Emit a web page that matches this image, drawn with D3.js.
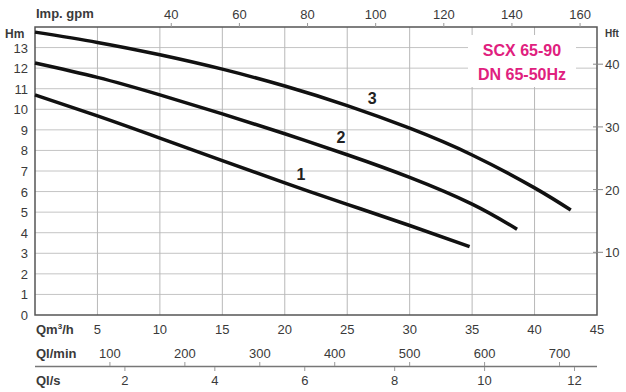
<!DOCTYPE html>
<html>
<head>
<meta charset="utf-8">
<script src="https://cdn.jsdelivr.net/npm/d3@7"></script>
<style>
  body { margin: 0; background: #fff; }
  svg text { font-family: "Liberation Sans", Arial, sans-serif; }
</style>
</head>
<body>
<div id="chart"></div>
<script>
// pump curves, flow in m3/h and head in m
const flow1 = [0, 5, 10, 15, 20, 25, 30, 34.8];
const head1 = [10.7, 9.68, 8.6, 7.5, 6.42, 5.38, 4.35, 3.32];
const flow2 = [0, 5, 10, 15, 20, 25, 30, 35, 38.6];
const head2 = [12.25, 11.55, 10.7, 9.78, 8.81, 7.79, 6.69, 5.39, 4.17];
const flow3 = [0, 5, 10, 15, 20, 25, 30, 35, 40, 42.9];
const head3 = [13.75, 13.25, 12.65, 11.95, 11.13, 10.18, 9.08, 7.78, 6.18, 5.1];
const curveNames = ["1", "2", "3"];
const labelFlow = [21.3, 24.5, 27.0];
const labelHead = [6.55, 8.35, 10.25];

// tick labels for every scale
const qTicks = [5, 10, 15, 20, 25, 30, 35, 40, 45];
const hTicks = [0, 1, 2, 3, 4, 5, 6, 7, 8, 9, 10, 11, 12, 13];
const gpmTicks = [40, 60, 80, 100, 120, 140, 160];
const lminTicks = [100, 200, 300, 400, 500, 600, 700];
const lsTicks = [2, 4, 6, 8, 10, 12];
const ftTicks = [10, 20, 30, 40];
const title = ["SCX 65-90", "DN 65-50Hz"];

const width = 626, height = 392;
const margin = {top: 27, right: 29, bottom: 77, left: 35};

const svg = d3.select("#chart")
  .append("svg")
  .attr("width", width)
  .attr("height", height);

// scales
let x = d3.scaleLinear()
  .domain([0, 45])
  .range([margin.left, width - margin.right]);

let y = d3.scaleLinear()
  .domain([0, 14])
  .range([height - margin.bottom, margin.top]);

// unit conversions for the extra axes
let xGpm = d3.scaleLinear().domain([0, 45 * 3.666]).range(x.range());
let xLmin = d3.scaleLinear().domain([0, 45 * 16.667]).range(x.range());
let xLs = d3.scaleLinear().domain([0, 45 / 3.6]).range(x.range());
let yFt = d3.scaleLinear().domain([0, 14 * 3.2808]).range(y.range());

const textCol = "#3a3a3a";

// grid
svg.append("g")
  .selectAll("line")
  .data(hTicks.slice(1))
  .enter()
  .append("line")
    .attr("x1", x(0))
    .attr("x2", x(45))
    .attr("y1", d => y(d))
    .attr("y2", d => y(d))
    .attr("stroke", "#c4c4c4")
    .attr("stroke-width", 1);

svg.append("g")
  .selectAll("line")
  .data(qTicks.slice(0, -1))
  .enter()
  .append("line")
    .attr("x1", d => x(d))
    .attr("x2", d => x(d))
    .attr("y1", y(0))
    .attr("y2", y(14))
    .attr("stroke", "#b8b8b8")
    .attr("stroke-width", 1);

// white box behind the model name
svg.append("rect")
  .attr("x", 468)
  .attr("y", 35)
  .attr("width", 108)
  .attr("height", 52)
  .attr("fill", "#fff");

// frame
svg.append("rect")
  .attr("x", x(0))
  .attr("y", y(14))
  .attr("width", x(45) - x(0))
  .attr("height", y(0) - y(14))
  .attr("fill", "none")
  .attr("stroke", "#555")
  .attr("stroke-width", 1.5);

// left axis Hm
svg.append("g")
  .selectAll("text")
  .data(hTicks)
  .enter()
  .append("text")
    .attr("x", 28)
    .attr("y", d => y(d) + 5)
    .attr("text-anchor", "end")
    .attr("font-size", 13)
    .attr("fill", textCol)
    .text(d => d);

svg.append("text")
  .attr("x", 5).attr("y", 38)
  .attr("font-size", 12).attr("font-weight", "bold")
  .attr("fill", textCol)
  .text("Hm");

// right axis Hft
svg.append("g")
  .selectAll("line")
  .data(ftTicks)
  .enter()
  .append("line")
    .attr("x1", x(45) - 4)
    .attr("x2", x(45) + 6)
    .attr("y1", d => yFt(d))
    .attr("y2", d => yFt(d))
    .attr("stroke", "#888");

svg.append("g")
  .selectAll("text")
  .data(ftTicks)
  .enter()
  .append("text")
    .attr("x", x(45) + 8)
    .attr("y", d => yFt(d) + 5)
    .attr("font-size", 13)
    .attr("fill", textCol)
    .text(d => d);

svg.append("text")
  .attr("x", 605).attr("y", 37)
  .attr("font-size", 10).attr("font-weight", "bold")
  .attr("fill", textCol)
  .text("Hft");

// top axis Imp. gpm
svg.append("g")
  .selectAll("line")
  .data(gpmTicks)
  .enter()
  .append("line")
    .attr("x1", d => xGpm(d))
    .attr("x2", d => xGpm(d))
    .attr("y1", y(14) - 4)
    .attr("y2", y(14))
    .attr("stroke", "#999");

svg.append("g")
  .selectAll("text")
  .data(gpmTicks)
  .enter()
  .append("text")
    .attr("x", d => xGpm(d))
    .attr("y", 19)
    .attr("text-anchor", "middle")
    .attr("font-size", 13)
    .attr("fill", textCol)
    .text(d => d);

svg.append("text")
  .attr("x", 36).attr("y", 18)
  .attr("font-size", 13).attr("font-weight", "bold")
  .attr("fill", textCol)
  .text("Imp. gpm");

// bottom axis Qm3/h
svg.append("g")
  .selectAll("text")
  .data(qTicks)
  .enter()
  .append("text")
    .attr("x", d => x(d))
    .attr("y", 334)
    .attr("text-anchor", "middle")
    .attr("font-size", 13)
    .attr("fill", textCol)
    .text(d => d);

let qLab = svg.append("text")
  .attr("x", 36).attr("y", 334)
  .attr("font-size", 13).attr("font-weight", "bold")
  .attr("fill", textCol)
  .text("Qm");
qLab.append("tspan").attr("dy", -5).attr("font-size", 8).text("3");
qLab.append("tspan").attr("dy", 5).text("/h");

// Ql/min
svg.append("g")
  .selectAll("text")
  .data(lminTicks)
  .enter()
  .append("text")
    .attr("x", d => xLmin(d))
    .attr("y", 358)
    .attr("text-anchor", "middle")
    .attr("font-size", 13)
    .attr("fill", textCol)
    .text(d => d);

svg.append("text")
  .attr("x", 36).attr("y", 358)
  .attr("font-size", 13).attr("font-weight", "bold")
  .attr("fill", textCol)
  .text("Ql/min");

// separator line with both tick sets
svg.append("line")
  .attr("x1", x(0)).attr("x2", x(45))
  .attr("y1", 366.5).attr("y2", 366.5)
  .attr("stroke", "#777").attr("stroke-width", 1.5);

svg.append("g")
  .selectAll("line")
  .data(lminTicks)
  .enter()
  .append("line")
    .attr("x1", d => xLmin(d)).attr("x2", d => xLmin(d))
    .attr("y1", 362).attr("y2", 366)
    .attr("stroke", "#999");

svg.append("g")
  .selectAll("line")
  .data(lsTicks)
  .enter()
  .append("line")
    .attr("x1", d => xLs(d)).attr("x2", d => xLs(d))
    .attr("y1", 367).attr("y2", 371)
    .attr("stroke", "#999");

// Ql/s
svg.append("g")
  .selectAll("text")
  .data(lsTicks)
  .enter()
  .append("text")
    .attr("x", d => xLs(d))
    .attr("y", 385)
    .attr("text-anchor", "middle")
    .attr("font-size", 13)
    .attr("fill", textCol)
    .text(d => d);

svg.append("text")
  .attr("x", 36).attr("y", 385)
  .attr("font-size", 13).attr("font-weight", "bold")
  .attr("fill", textCol)
  .text("Ql/s");

// curves
const series = [
  flow1.map((q, i) => [q, head1[i]]),
  flow2.map((q, i) => [q, head2[i]]),
  flow3.map((q, i) => [q, head3[i]])
];

let line = d3.line()
  .x(d => x(d[0]))
  .y(d => y(d[1]))
  .curve(d3.curveNatural);

svg.append("g")
  .selectAll("path")
  .data(series)
  .enter()
  .append("path")
    .attr("d", line)
    .attr("fill", "none")
    .attr("stroke", "#111")
    .attr("stroke-width", 3.5);

svg.append("g")
  .selectAll("text")
  .data(curveNames)
  .enter()
  .append("text")
    .attr("x", (d, i) => x(labelFlow[i]))
    .attr("y", (d, i) => y(labelHead[i]))
    .attr("text-anchor", "middle")
    .attr("font-size", 16)
    .attr("font-weight", "bold")
    .attr("fill", "#222")
    .text(d => d);

// model name
svg.append("g")
  .selectAll("text")
  .data(title)
  .enter()
  .append("text")
    .attr("x", 522)
    .attr("y", (d, i) => 56 + i * 24)
    .attr("text-anchor", "middle")
    .attr("font-size", 16)
    .attr("font-weight", "bold")
    .attr("fill", "#e0207e")
    .text(d => d);
</script>
</body>
</html>
